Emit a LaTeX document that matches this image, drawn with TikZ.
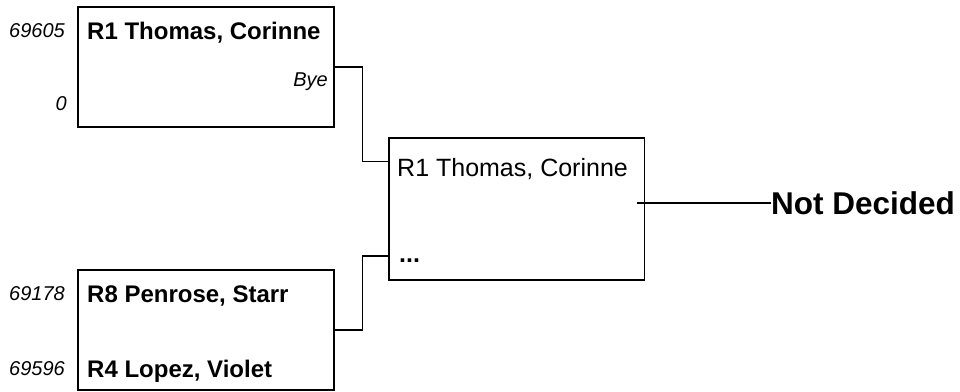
\documentclass[tikz,border=0pt]{standalone}
\usepackage{fontspec}
\setmainfont{Liberation Sans}
\begin{document}
\begin{tikzpicture}[x=1pt,y=-1pt,
  box/.style={draw, line width=1.6pt, anchor=north west, inner sep=0pt},
  wire/.style={line width=1.5pt},
  nm/.style={inner sep=0pt, font=\fontsize{24}{26}\selectfont\bfseries},
  nm2/.style={inner sep=0pt, font=\fontsize{25}{27}\selectfont},
  sc/.style={inner sep=0pt, font=\fontsize{20}{22}\selectfont\itshape},
  res/.style={inner sep=0pt, font=\fontsize{31.5}{33}\selectfont\bfseries}]
\useasboundingbox (0,0) rectangle (960,391);
% boxes
\node[box, minimum width=256pt, minimum height=120pt] (b1) at (77,6) {};
\node[box, minimum width=255.5pt, minimum height=142pt] (b2) at (388,137) {};
\node[box, minimum width=256pt, minimum height=120pt] (b3) at (77,269) {};
% texts box 1
\node[sc, anchor=base east] (s1) at (65,37) {69605};
\node[nm, anchor=base west] (n1) at (87,39) {R1 Thomas, Corinne};
\node[sc, anchor=base east] (bye) at (328,86) {Bye};
\node[sc, anchor=base east] (s2) at (67,110) {0};
% texts box 3
\node[sc, anchor=base east] (s3) at (65,300) {69178};
\node[nm, anchor=base west] (n3) at (87,302) {R8 Penrose, Starr};
\node[sc, anchor=base east] (s4) at (65,375) {69596};
\node[nm, anchor=base west] (n4) at (87,377) {R4 Lopez, Violet};
% texts box 2
\node[nm2, anchor=base west] (n2) at (397,176) {R1 Thomas, Corinne};
\node[nm2, anchor=base west, font=\fontsize{25}{27}\selectfont\bfseries] (dots) at (399,262) {...};
% result
\node[res, anchor=base west] (nd) at (771,214) {Not Decided};
% connectors
\coordinate (in2a) at (388,161.5);
\coordinate (in2b) at (388,256);
\coordinate (out2) at (637,203);
\draw[wire] (b1.east) -- ++(28,0) |- (in2a);
\draw[wire] (b3.east) -- ++(28,0) |- (in2b);
\draw[wire] (out2) -- (out2 -| nd.west);
\end{tikzpicture}
\end{document}
